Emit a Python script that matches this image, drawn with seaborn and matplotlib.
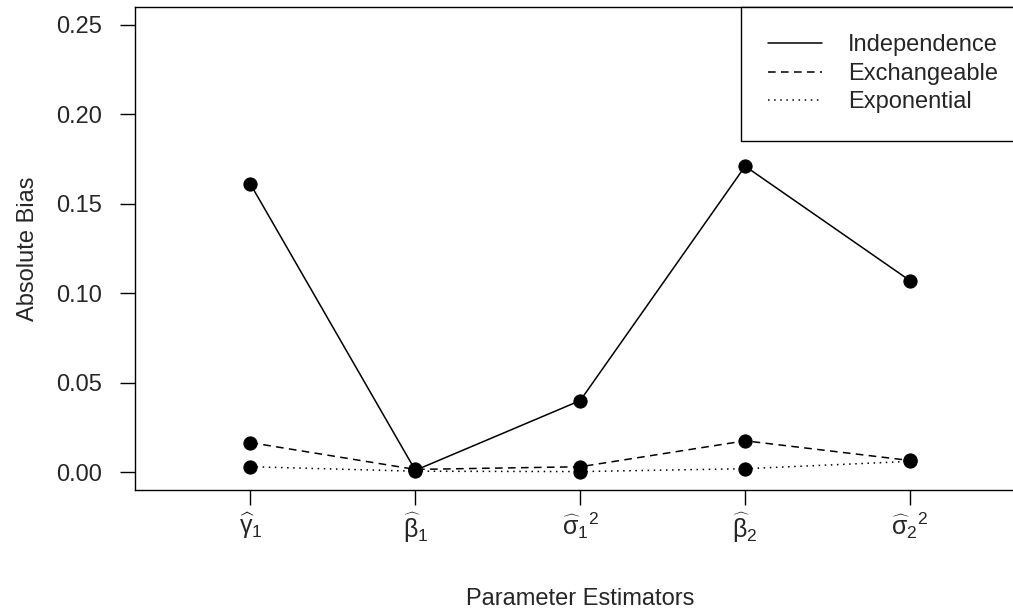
import matplotlib
matplotlib.use("Agg")
import matplotlib.pyplot as plt
import seaborn as sns
import pandas as pd
from matplotlib.lines import Line2D

# Data
estimators = [r"$\widehat{\gamma}_1$", r"$\widehat{\beta}_1$", r"$\widehat{\sigma}_1{}^2$",
              r"$\widehat{\beta}_2$", r"$\widehat{\sigma}_2{}^2$"]
positions = [1, 2, 3, 4, 5]
independence = [0.161, 0.001, 0.040, 0.171, 0.107]
exchangeable = [0.0165, 0.0015, 0.003, 0.0175, 0.0065]
exponential = [0.003, 0.0005, 0.0003, 0.0019, 0.006]
models = ["Independence", "Exchangeable", "Exponential"]
y_ticks = [0.00, 0.05, 0.10, 0.15, 0.20, 0.25]

sns.set_style("white")
plt.rcParams["font.family"] = ["Liberation Sans", "DejaVu Sans"]
plt.rcParams["mathtext.fontset"] = "custom"
plt.rcParams["mathtext.rm"] = "Liberation Sans"
plt.rcParams["mathtext.it"] = "Liberation Sans"
plt.rcParams["mathtext.bf"] = "Liberation Sans:bold"

df = pd.DataFrame({
    "pos": positions * 3,
    "bias": independence + exchangeable + exponential,
    "model": [m for m in models for _ in positions],
})

styles = {"Independence": "-", "Exchangeable": (0, (5, 3.5)), "Exponential": (0, (1, 3))}
fs = 17

fig = plt.figure(figsize=(10.13, 6.14), dpi=100)
ax = fig.add_axes([135 / 1013, 124 / 614, 890.5 / 1013, 483 / 614])

for m in models:
    sub = df[df["model"] == m]
    sns.lineplot(data=sub, x="pos", y="bias", ax=ax, color="black", linewidth=1.1,
                 linestyle=styles[m], marker="o", markersize=9.5,
                 markeredgecolor="black", markerfacecolor="black", legend=False)

ax.set_xlim(0.3, 5.7)
ax.set_ylim(-0.01, 0.26)
ax.set_xticks(positions)
ax.set_xticklabels(estimators, fontsize=fs + 1)
ax.set_yticks(y_ticks)
ax.set_yticklabels([f"{v:.2f}" for v in y_ticks], fontsize=fs)
ax.tick_params(axis="both", direction="out", length=11, width=1.0, color="black",
               bottom=True, left=True)
ax.tick_params(axis="y", pad=13)
ax.tick_params(axis="x", pad=4)
for s in ax.spines.values():
    s.set_visible(True)
    s.set_color("black")
    s.set_linewidth(1.0)

ax.set_xlabel("Parameter Estimators", fontsize=fs, labelpad=31)
ax.set_ylabel("Absolute Bias", fontsize=fs, labelpad=12)

handles = [Line2D([0], [0], color="black", linewidth=1.1, linestyle=styles[m]) for m in models]
leg = ax.legend(handles, models, loc="upper right", bbox_to_anchor=(1, 1), borderaxespad=0,
                fontsize=fs, frameon=True, fancybox=False, framealpha=1, edgecolor="black",
                borderpad=1.15, labelspacing=0.28, handlelength=2.3, handletextpad=1.1)
leg.get_frame().set_linewidth(1.0)

fig.savefig("out.png", dpi=100)
